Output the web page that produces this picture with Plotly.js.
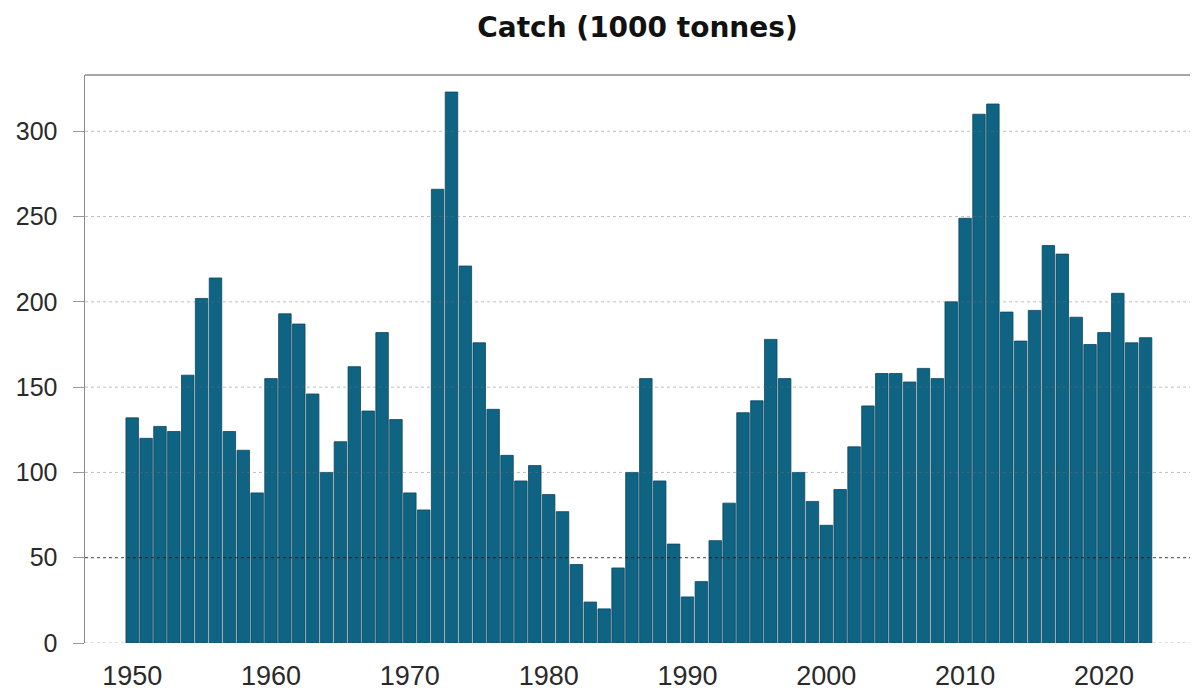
<!DOCTYPE html>
<html>
<head>
<meta charset="utf-8">
<script src="https://cdn.plot.ly/plotly-3.0.1.min.js"></script>
<style>html,body{margin:0;padding:0;background:#fff;}#chart{width:1192px;height:690px;}</style>
</head>
<body>
<div id="chart"></div>
<script>
const years = [];
for (let y = 1950; y <= 2023; y++) years.push(y);

const catchValues = [
  132, 120, 127, 124, 157, 202, 214, 124, 113, 88,
  155, 193, 187, 146, 100, 118, 162, 136, 182, 131,
  88, 78, 266, 323, 221, 176, 137, 110, 95, 104,
  87, 77, 46, 24, 20, 44, 100, 155, 95, 58,
  27, 36, 60, 82, 135, 142, 178, 155, 100, 83,
  69, 90, 115, 139, 158, 158, 153, 161, 155, 200,
  249, 310, 316, 194, 177, 195, 233, 228, 191, 175,
  182, 205, 176, 179
];

const xTickVals = [1950, 1960, 1970, 1980, 1990, 2000, 2010, 2020];
const yTickVals = [0, 50, 100, 150, 200, 250, 300];
const refLevel = 50;

const trace = {
  type: 'bar',
  x: years,
  y: catchValues,
  width: 0.9,
  marker: {color: '#0f6383', line: {color: '#0b4660', width: 0.8}},
  hoverinfo: 'x+y'
};

const gridShapes = yTickVals.map(v => ({
  type: 'line', xref: 'paper', yref: 'y', x0: 0, x1: 1, y0: v, y1: v,
  layer: 'above',
  line: {
    color: v === refLevel ? 'rgba(20,20,20,0.8)' : 'rgba(110,110,110,0.45)',
    width: 1, dash: 'dot'
  }
}));

const layout = {
  width: 1192,
  height: 690,
  margin: {l: 85, r: 2, t: 75, b: 47},
  paper_bgcolor: '#ffffff',
  plot_bgcolor: '#ffffff',
  font: {family: '"Liberation Sans", Arial, sans-serif', color: '#222'},
  title: {
    text: '<b>Catch (1000 tonnes)</b>',
    x: 0.5, xanchor: 'center', xref: 'paper',
    y: 0.96, yanchor: 'middle',
    font: {family: '"DejaVu Sans", sans-serif', size: 28, color: '#111'}
  },
  showlegend: false,
  bargap: 0.1,
  xaxis: {
    range: [1946.6, 2026.2],
    tickvals: xTickVals,
    ticktext: xTickVals.map(String),
    showgrid: false,
    zeroline: false,
    showline: false,
    ticks: '',
    ticklabelstandoff: 14,
    tickfont: {size: 27, color: '#2a2a2a'}
  },
  yaxis: {
    range: [0, 333],
    tickvals: yTickVals,
    ticktext: yTickVals.map(String),
    showgrid: false,
    zeroline: false,
    showline: true,
    linecolor: '#8a8a8a',
    linewidth: 1.5,
    ticks: 'outside',
    ticklen: 11,
    tickcolor: '#9a9a9a',
    tickwidth: 1,
    ticklabelstandoff: 10,
    tickfont: {size: 25, color: '#2a2a2a'},
    layer: 'above traces'
  },
  shapes: gridShapes.concat([
    {type: 'line', xref: 'paper', yref: 'paper', x0: 0, x1: 1, y0: 1, y1: 1,
     line: {color: '#8a8a8a', width: 1.5}}
  ])
};

Plotly.newPlot('chart', [trace], layout, {displayModeBar: false, staticPlot: true});
</script>
</body>
</html>
